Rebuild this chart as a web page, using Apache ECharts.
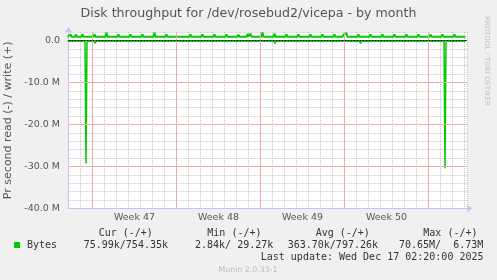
<!DOCTYPE html>
<html><head><meta charset="utf-8">
<script src="https://cdn.jsdelivr.net/npm/echarts@6/dist/echarts.min.js"></script>
<style>html,body{margin:0;padding:0;background:#f0f0f0}#c{width:497px;height:280px}</style>
</head><body><div id="c"></div>
<script>
// ---------- data ----------
const TITLE = 'Disk throughput for /dev/rosebud2/vicepa - by month';
const Y_NAME = 'Pr second read (-) / write (+)';
const SIDE_TEXT = 'RRDTOOL / TOBI OETIKER';
const ORIGIN = '11-16 00:00';           // first week grid line (day 0)
const X_MIN = -2, X_MAX = 31.25;        // days relative to ORIGIN
const weekLabels = ['Week 47', 'Week 48', 'Week 49', 'Week 50'];
const weekStartDays = [0, 7, 14, 21];
const weekLineDays = [0, 7, 14, 21, 28];
const Y_MIN = -40, Y_MAX = 2;           // in M
const majorYValues = [-10, -20, -30];
const yTickValues = [0, -10, -20, -30, -40];
const yTickLabels = ['0.0', '-10.0 M', '-20.0 M', '-30.0 M', '-40.0 M'];
const seriesName = 'Bytes';
const legendHeaders = ['Cur (-/+)', 'Min (-/+)', 'Avg (-/+)', 'Max (-/+)'];
const legendValues = ['75.99k/754.35k', '2.84k/ 29.27k', '363.70k/797.26k', '70.65M/  6.73M'];
const lastUpdate = 'Last update: Wed Dec 17 02:20:00 2025';
const footer = 'Munin 2.0.33-1';

// write (+), bytes per second in M
const writeData = [
  ['11-13 22:00',0.88],
  ['11-14 02:00',0.88],['11-14 04:00',1.45],['11-14 06:00',0.88],
  ['11-14 13:00',0.88],['11-14 15:00',1.45],['11-14 17:00',0.88],
  ['11-15 02:00',0.88],['11-15 04:00',1.50],['11-15 06:00',0.88],
  ['11-16 02:00',0.88],['11-16 04:00',1.50],['11-16 06:00',0.88],
  ['11-17 02:00',0.88],['11-17 04:00',1.90],['11-17 06:00',0.88],
  ['11-18 02:00',0.88],['11-18 04:00',1.45],['11-18 06:00',0.88],
  ['11-19 02:00',0.88],['11-19 04:00',1.45],['11-19 06:00',0.88],
  ['11-20 02:00',0.88],['11-20 04:00',1.45],['11-20 06:00',0.88],
  ['11-21 02:00',0.88],['11-21 04:00',1.90],['11-21 06:00',0.88],
  ['11-22 02:00',0.88],['11-22 04:00',1.45],['11-22 06:00',0.88],
  ['11-23 02:00',0.88],['11-23 04:00',1.35],['11-23 06:00',0.88],
  ['11-24 02:00',0.88],['11-24 04:00',1.45],['11-24 06:00',0.88],
  ['11-25 02:00',0.88],['11-25 04:00',1.45],['11-25 06:00',0.88],
  ['11-26 02:00',0.88],['11-26 04:00',1.45],['11-26 06:00',0.88],
  ['11-27 02:00',0.88],['11-27 04:00',1.45],['11-27 06:00',0.88],
  ['11-28 02:00',0.88],['11-28 04:00',1.40],['11-28 06:00',0.88],
  ['11-28 20:00',0.88],['11-28 22:00',1.55],['11-29 00:00',0.95],
  ['11-29 02:00',0.95],['11-29 04:00',1.65],['11-29 06:00',0.88],
  ['11-30 02:00',0.88],['11-30 04:00',1.90],['11-30 06:00',0.88],
  ['12-01 02:00',0.88],['12-01 04:00',1.65],['12-01 06:00',0.88],
  ['12-02 02:00',0.88],['12-02 04:00',1.45],['12-02 06:00',0.88],
  ['12-03 02:00',0.88],['12-03 04:00',1.45],['12-03 06:00',0.88],
  ['12-04 02:00',0.88],['12-04 04:00',1.45],['12-04 06:00',0.88],
  ['12-05 02:00',0.88],['12-05 04:00',1.45],['12-05 06:00',0.88],
  ['12-06 02:00',0.88],['12-06 04:00',1.45],['12-06 06:00',0.88],
  ['12-06 20:00',0.88],['12-06 22:00',1.40],['12-07 00:00',1.00],
  ['12-07 02:00',1.05],['12-07 04:00',1.75],['12-07 06:00',0.88],
  ['12-08 02:00',0.88],['12-08 04:00',1.45],['12-08 06:00',0.88],
  ['12-09 02:00',0.88],['12-09 04:00',1.45],['12-09 06:00',0.88],
  ['12-10 02:00',0.88],['12-10 04:00',1.45],['12-10 06:00',0.88],
  ['12-11 02:00',0.88],['12-11 04:00',1.45],['12-11 06:00',0.88],
  ['12-12 02:00',0.88],['12-12 04:00',1.45],['12-12 06:00',0.88],
  ['12-13 02:00',0.88],['12-13 04:00',1.45],['12-13 06:00',0.88],
  ['12-14 02:00',0.88],['12-14 04:00',1.45],['12-14 06:00',0.88],
  ['12-15 02:00',0.88],['12-15 04:00',1.45],['12-15 06:00',0.88],
  ['12-16 02:00',0.88],['12-16 04:00',1.45],['12-16 06:00',0.88],
  ['12-17 02:00',0.88]
];

// read (-), bytes per second in M (negative)
const readData = [
  ['11-13 22:00',-0.15],
  ['11-15 09:00',-0.15],['11-15 11:00',-29.3],['11-15 13:00',-0.15],
  ['11-16 03:00',-0.15],['11-16 05:00',-0.65],['11-16 07:00',-0.15],
  ['11-18 02:00',-0.15],['11-18 04:00',-0.55],['11-18 06:00',-0.15],
  ['11-19 15:00',-0.15],['11-19 17:00',-0.45],['11-19 19:00',-0.15],
  ['11-20 02:00',-0.15],['11-20 04:00',-0.45],['11-20 06:00',-0.15],
  ['11-22 11:00',-0.15],['11-22 13:00',-0.55],['11-22 15:00',-0.15],
  ['11-26 05:00',-0.15],['11-26 07:00',-0.55],['11-26 09:00',-0.15],
  ['11-28 19:00',-0.15],['11-28 21:00',-0.50],['11-28 23:00',-0.15],
  ['12-01 03:00',-0.15],['12-01 05:00',-0.70],['12-01 07:00',-0.15],
  ['12-03 07:00',-0.15],['12-03 09:00',-0.50],['12-03 11:00',-0.15],
  ['12-06 17:00',-0.15],['12-06 19:00',-0.50],['12-06 21:00',-0.15],
  ['12-08 06:00',-0.15],['12-08 08:00',-0.70],['12-08 10:00',-0.15],
  ['12-10 00:00',-0.15],['12-10 02:00',-0.45],['12-10 04:00',-0.15],
  ['12-10 20:00',-0.15],['12-10 22:00',-0.50],['12-11 00:00',-0.15],
  ['12-13 12:00',-0.15],['12-13 14:00',-0.50],['12-13 16:00',-0.15],
  ['12-15 07:00',-0.15],['12-15 09:00',-30.4],['12-15 11:00',-0.15],
  ['12-16 00:00',-0.15],['12-16 02:00',-0.45],['12-16 04:00',-0.15],
  ['12-17 02:00',-0.15]
];

// ---------- helpers ----------
function toDay(s) {
  const t = Date.parse('2025-' + s.replace(' ', 'T') + ':00');
  const o = Date.parse('2025-' + ORIGIN.replace(' ', 'T') + ':00');
  return (t - o) / 86400000;
}
const toXY = arr => arr.map(p => [toDay(p[0]), p[1]]);

const GRAY = '#c4c4c4', RED = '#efaaaa', AXIS = '#c4c4f0';
const FONT = 'DejaVu Sans', MONO = 'DejaVu Sans Mono';

const majorLines = weekLineDays.map(d => ({xAxis: d})).concat(majorYValues.map(v => ({yAxis: v})));

const chart = echarts.init(document.getElementById('c'), null, {renderer: 'canvas'});

const graphics = [
  {type: 'text', x: 248.5, y: 14, style: {text: TITLE, align: 'center', verticalAlign: 'middle', font: '12.6px "DejaVu Sans"', fill: '#555'}},
  {type: 'text', x: 487, y: 61, rotation: -Math.PI / 2, style: {text: SIDE_TEXT, align: 'center', verticalAlign: 'middle', font: '7px "DejaVu Sans"', fill: '#c4c4c4'}},
  {type: 'text', x: 248, y: 269.5, style: {text: footer, align: 'center', verticalAlign: 'middle', font: '7.8px "DejaVu Sans"', fill: '#bcbcbc'}},
  {type: 'text', x: 483.5, y: 257.5, style: {text: lastUpdate, align: 'right', verticalAlign: 'middle', font: '10px "DejaVu Sans Mono"', fill: '#333'}}
];
const headerX = [98.7, 207.3, 315.7, 423.3];
const valueX = [83.7, 195, 287.7, 399];
legendHeaders.forEach((h, i) => graphics.push({type: 'text', x: headerX[i], y: 233.5, style: {text: h, align: 'left', verticalAlign: 'middle', font: '10px "DejaVu Sans Mono"', fill: '#333'}}));
legendValues.forEach((v, i) => graphics.push({type: 'text', x: valueX[i], y: 245.8, style: {text: v, align: 'left', verticalAlign: 'middle', font: '10px "DejaVu Sans Mono"', fill: '#333'}}));

chart.setOption({
  animation: false,
  backgroundColor: '#f0f0f0',
  color: ['#00cc00'],
  grid: {left: 68.5, right: 29.5, top: 32.1, bottom: 71.5, show: true, backgroundColor: '#fff', borderWidth: 0,
         containLabel: false, outerBoundsMode: 'none'},
  legend: {
    data: [seriesName], left: 14, top: 240, padding: 0, icon: 'rect', itemWidth: 6, itemHeight: 6,
    textStyle: {fontFamily: MONO, fontSize: 10, color: '#333', padding: [0, 0, 0, 2]}
  },
  xAxis: {
    type: 'value', min: X_MIN, max: X_MAX, interval: 1,
    axisLine: {show: true, onZero: false, lineStyle: {color: AXIS, width: 1}, symbol: ['none', 'arrow'], symbolSize: [6, 6], symbolOffset: [0, 5]},
    axisTick: {show: false},
    splitLine: {show: true, lineStyle: {color: GRAY, type: [1, 1], width: 1}},
    axisLabel: {
      fontFamily: FONT, fontSize: 9.5, color: '#555', margin: 4, padding: [0, 0, 0, 12],
      formatter: v => { const i = weekStartDays.findIndex(d => Math.abs(d + 3 - v) < 1e-6); return i >= 0 ? weekLabels[i] : ''; }
    }
  },
  yAxis: {
    type: 'value', min: Y_MIN, max: Y_MAX, interval: 2,
    name: Y_NAME, nameLocation: 'middle', nameGap: 51.5,
    nameTextStyle: {fontFamily: FONT, fontSize: 11, color: '#555'},
    axisLine: {show: true, onZero: false, lineStyle: {color: AXIS, width: 1}, symbol: ['none', 'arrow'], symbolSize: [6, 6], symbolOffset: [0, 5]},
    axisTick: {show: false},
    splitLine: {show: true, lineStyle: {color: GRAY, type: [1, 1], width: 1}},
    axisLabel: {
      fontFamily: FONT, fontSize: 9.5, color: '#555', margin: 8.5,
      formatter: v => { const i = yTickValues.findIndex(t => Math.abs(t - v) < 1e-6); return i >= 0 ? yTickLabels[i] : ''; }
    }
  },
  series: [
    {
      name: seriesName, type: 'line', data: toXY(readData), showSymbol: false, symbol: 'none', z: 2,
      lineStyle: {color: '#00cc00', width: 1.5}, itemStyle: {color: '#00cc00'},
      markLine: {
        silent: true, symbol: 'none', label: {show: false},
        lineStyle: {color: RED, width: 1, type: 'solid'},
        data: majorLines.map(m => Object.assign({}, m, {lineStyle: {color: RED, type: 'solid', width: 1}}))
          .concat([{yAxis: 0, lineStyle: {color: '#000', width: 1, type: [2, 1]}}])
      }
    },
    {
      name: seriesName, type: 'line', data: toXY(writeData), showSymbol: false, symbol: 'none', z: 3,
      lineStyle: {color: '#00cc00', width: 2}, itemStyle: {color: '#00cc00'}
    }
  ],
  graphic: graphics
});
</script></body></html>
